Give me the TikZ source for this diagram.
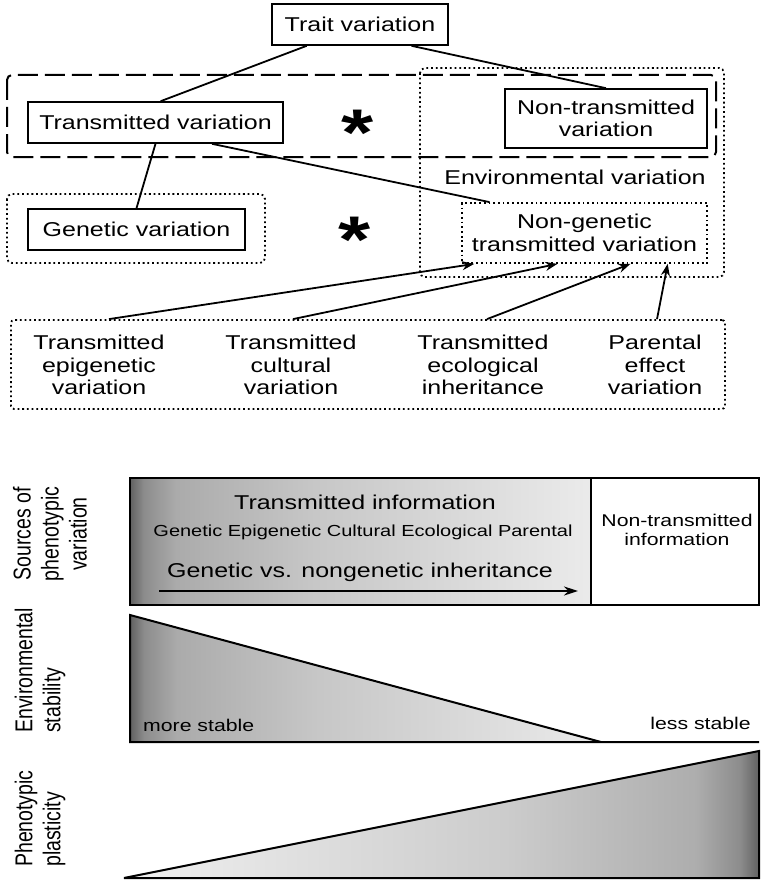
\documentclass[tikz,border=0pt]{standalone}
\usepackage{fontspec}
\setmainfont{Liberation Sans}[FakeStretch=1.25]
\newfontfamily\sidefont{Liberation Sans}
\usetikzlibrary{
  calc,
  arrows.meta,
  positioning
}
\pgfdeclarehorizontalshading{fadeleft}{100bp}{color(0bp)=(black!62); color(25bp)=(black!62); color(26.5bp)=(black!45); color(30bp)=(black!33); color(45bp)=(black!22); color(60bp)=(black!15); color(75bp)=(black!8); color(100bp)=(black!8)}
\pgfdeclarehorizontalshading{faderight}{100bp}{color(0bp)=(black!6); color(25bp)=(black!6); color(40bp)=(black!13); color(55bp)=(black!20); color(70bp)=(black!32); color(73.5bp)=(black!45); color(75bp)=(black!62); color(100bp)=(black!62)}

\begin{document}
\begin{tikzpicture}[x=1pt, y=-1pt,
  box/.style={draw, line width=1.6pt, inner sep=0pt, align=center, font=\fontsize{20}{22.5}\selectfont},
  dots/.style={draw, line width=1.8pt, dash pattern=on 1.8pt off 2.9pt},
  dashgrp/.style={draw, line width=2pt, dash pattern=on 20pt off 7pt, rounded corners=5pt},
  txt/.style={inner sep=0pt, align=center, font=\fontsize{20}{22.5}\selectfont},
  small/.style={inner sep=0pt, align=center, font=\fontsize{17}{19}\selectfont},
  side/.style={rotate=90, yscale=1.25, inner sep=0pt, font=\sidefont\fontsize{19.5}{22.4}\selectfont},
  star/.style={inner sep=0pt, anchor=base, font=\fontsize{66}{66}\selectfont\bfseries},
  link/.style={line width=1.8pt},
  panel/.style={line width=2pt},
  >={Stealth[length=12pt, width=9pt]}]
\useasboundingbox (0,0) rectangle (760,880);

\draw[dashgrp] (7,75) rectangle (716,157);
\draw[dots, rounded corners=5pt] (420,68) rectangle (724,277);
\draw[dots, rounded corners=5pt] (7,194) rectangle (265,263);

\node[box, minimum width=176pt, minimum height=41pt] (trait) at (360,24.5) {Trait variation};
\node[box, minimum width=255pt, minimum height=41pt] (trans) at (155.5,122.5) {Transmitted variation};
\node[box, minimum width=202pt, minimum height=59pt] (nontrans) at (606,118.5) {Non-transmitted\\variation};
\node[box, minimum width=217pt, minimum height=41pt] (genetic) at (136.5,229.5) {Genetic variation};
\node[box, dots, minimum width=245pt, minimum height=60pt] (nongen) at (584.5,233) {Non-genetic\\transmitted variation};
\node[txt] (envlabel) at (575,177) {Environmental variation};
\node[star] (star1) at (358,155) {*};
\node[star] (star2) at (355,262) {*};

\node[dots, rounded corners=3pt, minimum width=714pt, minimum height=89pt] (srcbox) at (368,364.5) {};
\node[txt] (epi) at (99,365) {Transmitted\\epigenetic\\variation};
\node[txt] (cult) at (291,365) {Transmitted\\cultural\\variation};
\node[txt] (eco) at (483,365) {Transmitted\\ecological\\inheritance};
\node[txt] (par) at (655,365) {Parental\\effect\\variation};

\draw[link] ($(trait.south west)!.2!(trait.south east)$) -- ($(trans.north west)!.52!(trans.north east)$);
\draw[link] ($(trait.south west)!.79!(trait.south east)$) -- (nontrans.north);
\draw[link] (trans.south) -- (genetic.north);
\draw[link] ($(trans.south west)!.72!(trans.south east)$) -- ($(nongen.north west)!.115!(nongen.north east)$);
\draw[link,->] ($(epi.north |- srcbox.north)+(10,0)$) -- ($(nongen.south west)!.053!(nongen.south east)$);
\draw[link,->] ($(cult.north |- srcbox.north)+(2,0)$) -- ($(nongen.south west)!.39!(nongen.south east)$);
\draw[link,->] ($(eco.north |- srcbox.north)+(4,0)$) -- ($(nongen.south west)!.686!(nongen.south east)$);
\draw[link,->] ($(par.north |- srcbox.north)+(2,0)$) -- ($(nongen.south west)!.837!(nongen.south east)$);

\fill[shading=fadeleft] (130,478) rectangle (591,605);
\draw[panel] (130,478) rectangle (759,605);
\draw[panel] (591,478) -- (591,605);
\node[txt] (tinfo) at (365,502) {Transmitted information};
\node[inner sep=0pt, font=\fontsize{16}{18}\selectfont] (kinds) at (363,532) {Genetic Epigenetic Cultural Ecological Parental};
\node[txt] (inherit) at (360,572) {Genetic vs. nongenetic inheritance};
\coordinate (arrs) at (159,591);
\coordinate (arre) at (578,591);
\draw[panel, -{Stealth[length=14pt, width=9pt]}] (arrs) -- (arre);
\node[small] (ntinfo) at (677,530) {Non-transmitted\\information};

\fill[shading=fadeleft] (130,615) -- (130,742) -- (601,742) -- cycle;
\draw[panel] (601,742) -- (130,615) -- (130,742) -- (759,742);
\node[small, anchor=west] (more) at (143,725) {more stable};
\node[small, anchor=east] (less) at (751,723) {less stable};

\fill[shading=faderight] (124,878) -- (759,751) -- (759,878) -- cycle;
\draw[panel] (124,878) -- (759,751) -- (759,878) -- cycle;

\node[side, align=center] (srclab) at (50,534) {Sources of\\phenotypic\\variation};
\node[side, align=left, anchor=west] (stablab) at (40,733) {Environmental\\stability};
\node[side, align=left, anchor=west] (plaslab) at (40,867) {Phenotypic\\plasticity};
\end{tikzpicture}
\end{document}
